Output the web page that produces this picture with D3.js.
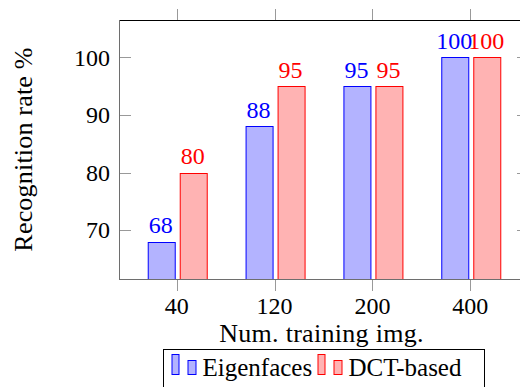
<!DOCTYPE html>
<html>
<head>
<meta charset="utf-8">
<script src="https://cdn.jsdelivr.net/npm/d3@7"></script>
<style>
  body { margin: 0; background: #fff; }
  svg { display: block; }
  text { font-family: 'Liberation Serif', 'DejaVu Serif', serif; }
</style>
</head>
<body>
<svg id="chart"></svg>
<script>
let width = 520;
let height = 387;

// data
let categories = ["40", "120", "200", "400"];
let seriesNames = ["Eigenfaces", "DCT-based"];
let eigenfaces = [68, 88, 95, 100];
let dctBased = [80, 95, 95, 100];
let yTicks = [70, 80, 90, 100];

let strokeColors = ["#0000ff", "#ff0000"];
let fillColors = ["#b3b3ff", "#ffb3b3"];
let serif = "'Liberation Serif', 'DejaVu Serif', serif";

let svg = d3.select("#chart")
  .attr("width", width)
  .attr("height", height)
  .attr("font-family", serif);

// plot frame (right edge runs past the window, like the original)
let plotLeft = 119, plotRight = 528, plotTop = 20, plotBottom = 279;

let x = d3.scalePoint().domain(categories).range([plotLeft, plotRight]).padding(0.59);
let xInner = d3.scaleBand().domain(seriesNames).range([-29.5, 29.5]).paddingInner(5 / 32);
let y = d3.scaleLinear().domain([61.5, 106.5]).range([plotBottom, plotTop]);

let rows = categories.map((c, i) => ({ cat: c, values: [eigenfaces[i], dctBased[i]] }));

// bars
let groups = svg.append("g")
  .selectAll("g")
  .data(rows)
  .join("g")
  .attr("transform", d => `translate(${x(d.cat)},0)`);

groups.selectAll("rect")
  .data(d => d.values.map((v, j) => ({ v: v, s: seriesNames[j], j: j })))
  .join("rect")
  .attr("x", d => Math.round(xInner(d.s)) + 0.5)
  .attr("y", d => Math.round(y(d.v)) + 0.5)
  .attr("width", Math.round(xInner.bandwidth()))
  .attr("height", d => plotBottom - Math.round(y(d.v)))
  .attr("fill", d => fillColors[d.j])
  .attr("stroke", d => strokeColors[d.j])
  .attr("stroke-width", 1);

// value labels above bars
groups.selectAll("text")
  .data(d => d.values.map((v, j) => ({ v: v, s: seriesNames[j], j: j })))
  .join("text")
  .attr("x", d => xInner(d.s) + xInner.bandwidth() / 2)
  .attr("y", d => y(d.v) - 8.5)
  .attr("text-anchor", "middle")
  .attr("font-size", 24)
  .attr("fill", d => strokeColors[d.j])
  .text(d => d.v);

// axis frame
let frame = svg.append("g");
frame.append("line").attr("x1", plotLeft).attr("x2", plotRight).attr("y1", plotTop + 0.5).attr("y2", plotTop + 0.5)
  .attr("stroke", "#000");
frame.append("line").attr("x1", plotLeft).attr("x2", plotRight).attr("y1", plotBottom + 0.5).attr("y2", plotBottom + 0.5)
  .attr("stroke", "#6e6e6e");
frame.append("line").attr("x1", plotLeft + 0.5).attr("x2", plotLeft + 0.5).attr("y1", plotTop).attr("y2", plotBottom + 1)
  .attr("stroke", "#6e6e6e");
frame.append("line").attr("x1", plotRight + 0.5).attr("x2", plotRight + 0.5).attr("y1", plotTop).attr("y2", plotBottom + 1)
  .attr("stroke", "#000");

// x ticks: outside, top and bottom
let tickLen = 11;
frame.selectAll(".xt-top")
  .data(categories)
  .join("line")
  .attr("x1", d => Math.round(x(d)) + 0.5).attr("x2", d => Math.round(x(d)) + 0.5)
  .attr("y1", plotTop - tickLen).attr("y2", plotTop)
  .attr("stroke", "#999");
frame.selectAll(".xt-bot")
  .data(categories)
  .join("line")
  .attr("x1", d => Math.round(x(d)) + 0.5).attr("x2", d => Math.round(x(d)) + 0.5)
  .attr("y1", plotBottom + 1).attr("y2", plotBottom + 1 + tickLen)
  .attr("stroke", "#999");

// y ticks: inside, left and right
frame.selectAll(".yt-left")
  .data(yTicks)
  .join("line")
  .attr("x1", plotLeft + 1).attr("x2", plotLeft + 1 + tickLen)
  .attr("y1", d => Math.round(y(d)) + 0.5).attr("y2", d => Math.round(y(d)) + 0.5)
  .attr("stroke", "#999");
frame.selectAll(".yt-right")
  .data(yTicks)
  .join("line")
  .attr("x1", plotRight - tickLen).attr("x2", plotRight)
  .attr("y1", d => Math.round(y(d)) + 0.5).attr("y2", d => Math.round(y(d)) + 0.5)
  .attr("stroke", "#999");

// tick labels
svg.append("g")
  .selectAll("text")
  .data(categories)
  .join("text")
  .attr("x", d => x(d))
  .attr("y", 314)
  .attr("text-anchor", "middle")
  .attr("font-size", 24)
  .attr("fill", "#000")
  .text(d => d);

svg.append("g")
  .selectAll("text")
  .data(yTicks)
  .join("text")
  .attr("x", 110)
  .attr("y", d => y(d))
  .attr("dy", "0.35em")
  .attr("text-anchor", "end")
  .attr("font-size", 24)
  .attr("fill", "#000")
  .text(d => d);

// axis titles
svg.append("text")
  .attr("x", (plotLeft + plotRight) / 2 - 2)
  .attr("y", 342)
  .attr("text-anchor", "middle")
  .attr("font-size", 26)
  .attr("letter-spacing", 0.3)
  .text("Num. training img.");

svg.append("text")
  .attr("transform", `translate(32,${(plotTop + plotBottom) / 2}) rotate(-90)`)
  .attr("text-anchor", "middle")
  .attr("font-size", 26)
  .attr("letter-spacing", 0.2)
  .text("Recognition rate %");

// legend
let legend = svg.append("g");
legend.append("rect")
  .attr("x", 163.5).attr("y", 349.5)
  .attr("width", 321).attr("height", 60)
  .attr("fill", "#fff").attr("stroke", "#000");

let legendX = [171.5, 317.5];
let legendItems = legend.selectAll("g")
  .data(seriesNames)
  .join("g")
  .attr("transform", (d, i) => `translate(${legendX[i]},0)`);

legendItems.append("rect")
  .attr("x", 0.5).attr("y", 354.5).attr("width", 7).attr("height", 20)
  .attr("fill", (d, i) => fillColors[i]).attr("stroke", (d, i) => strokeColors[i]);
legendItems.append("rect")
  .attr("x", 16.5).attr("y", 360.5).attr("width", 8).attr("height", 14)
  .attr("fill", (d, i) => fillColors[i]).attr("stroke", (d, i) => strokeColors[i]);
legendItems.append("text")
  .attr("x", 31)
  .attr("y", 376)
  .attr("font-size", 25)
  .attr("fill", "#000")
  .text(d => d);
</script>
</body>
</html>
